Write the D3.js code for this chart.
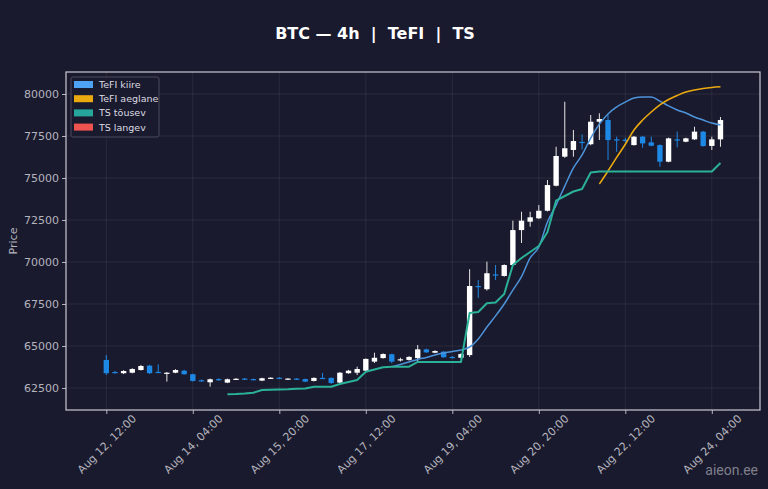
<!DOCTYPE html>
<html>
<head>
<meta charset="utf-8">
<script src="https://cdn.jsdelivr.net/npm/d3@7"></script>
<style>
  html, body { margin: 0; padding: 0; background: #1a1a2e; }
  svg { display: block; }
</style>
</head>
<body>
<div id="grafica"></div>
<script>
// 4h candles, first one Aug 12 12:00
var inicio = Date.UTC(2024, 7, 12, 12);
var paso = 4 * 3600 * 1000;

var abre = [64170, 63450, 63380, 63410, 63570, 63830, 63460, 63370, 63410, 63530,
  63320, 62960, 62840, 63030, 62820, 63010, 63060, 63030, 62940, 63090,
  63110, 63030, 63060, 63030, 62920, 63100, 63100, 62820, 63380, 63410,
  63530, 64070, 64280, 64510, 64180, 64170, 64280, 64800, 64600, 64660,
  64350, 64300, 64460, 68570, 68380, 69260, 69170, 69820, 71900, 72400,
  72600, 73050, 74540, 76270, 76670, 77150, 77010, 78350, 78450, 77300,
  77280, 76960, 77460, 77120, 76960, 75970, 77300, 77160, 77300, 77760,
  76910, 77300];
var alto = [64460, 63520, 63560, 63680, 63870, 63880, 63910, 63450, 63620, 63580,
  63350, 63010, 63060, 63080, 63060, 63080, 63090, 63060, 63110, 63140,
  63140, 63090, 63090, 63060, 63130, 63390, 63130, 63450, 63580, 63770,
  64260, 64600, 64560, 64540, 64300, 64390, 65060, 64840, 64740, 64700,
  64400, 64560, 69570, 68930, 70020, 69820, 69860, 72460, 72990, 72990,
  73390, 74880, 76860, 79540, 77860, 77600, 78750, 78850, 78750, 77460,
  77400, 77500, 77500, 77460, 77000, 77400, 77760, 77400, 78050, 77800,
  77460, 78630];
var bajo = [63270, 63360, 63330, 63370, 63540, 63330, 63380, 62880, 63380, 63290,
  62880, 62870, 62580, 62930, 62790, 62980, 62990, 62950, 62910, 63060,
  63050, 63000, 62990, 62850, 62890, 63050, 62740, 62790, 63350, 63270,
  63500, 63990, 64250, 63970, 64080, 64130, 64070, 64590, 64570, 64300,
  64260, 64270, 64350, 67860, 68300, 68930, 69130, 69780, 71130, 72100,
  72560, 73010, 74500, 76200, 76270, 76700, 76950, 77260, 76070, 76560,
  77100, 76930, 76800, 76890, 75670, 75940, 76830, 77130, 77270, 76870,
  76670, 76860];
var cierra = [63380, 63430, 63510, 63630, 63810, 63380, 63420, 63410, 63570, 63320,
  62920, 62930, 63020, 62990, 63020, 63050, 63020, 62980, 63080, 63110,
  63080, 63060, 63020, 62880, 63100, 63080, 62800, 63410, 63530, 63630,
  64230, 64300, 64520, 64070, 64210, 64350, 64800, 64620, 64700, 64330,
  64320, 64520, 68570, 68500, 69330, 69200, 69820, 71900, 72460, 72660,
  73050, 74580, 76310, 76770, 77200, 77100, 78350, 78510, 77260, 77250,
  77240, 77460, 77060, 76920, 75970, 77360, 77260, 77360, 77760, 76900,
  77300, 78450];

// indicator lines (null = not yet computed)
var tefiKiire = Array(33).fill(null).concat([
  63770, 63900, 64050, 64200, 64320, 64460, 64580, 64670, 64760, 64940,
  65420, 66130, 66790, 67500, 68330, 69130, 70240, 70890, 72380, 73390,
  74520, 75600, 76370, 77380, 78210, 78810, 79230, 79520, 79760, 79820,
  79820, 79580, 79290, 79050, 78870, 78630, 78450, 78270, 78160]);
var tefiAeglane = Array(57).fill(null).concat([
  74640, 75420, 76230, 77010, 77860, 78450, 78930, 79350, 79670, 79910,
  80120, 80240, 80330, 80390, 80430]);
var tsTousev = Array(14).fill(null).concat([
  62125, 62143, 62173, 62220, 62381, 62399, 62411, 62423, 62458, 62470,
  62577, 62577, 62577, 62738, 62857, 62976, 63470, 63601, 63732, 63768,
  63768, 63768, 64048, 64048, 64048, 64048, 64048, 64048, 66964, 67024,
  67541, 67589, 68095, 69821, 70238, 70595, 70952, 71785, 73660, 73928,
  74196, 74345, 75327, 75387, 75387, 75387, 75387, 75387, 75387, 75387,
  75387, 75387, 75387, 75387, 75387, 75387, 75387, 75893]);
var tsLangev = Array(72).fill(null);

var yTicks = [62500, 65000, 67500, 70000, 72500, 75000, 77500, 80000];
var xTickIdx = [0, 10, 20, 30, 40, 50, 60, 70];
var leyenda = ['TeFI kiire', 'TeFI aeglane', 'TS tõusev', 'TS langev'];
var colores = ['#4ea3f5', '#eaa90f', '#26a69a', '#ef5350'];

var ancho = 768, altura = 489;
var izq = 66, der = 760, arriba = 72, abajo = 410;
var fondo = "#1a1a2e";
var azulVela = "#1e88e5";
var gris = "#b4b4bd";
var fuente = "DejaVu Sans, sans-serif";

function tiempo(i) { return new Date(inicio + paso * i); }

var x = d3.scaleUtc()
  .domain([tiempo(-4.66), tiempo(75.57)])
  .range([izq, der]);
var y = d3.scaleLinear()
  .domain([61190, 81310])
  .range([abajo, arriba]);

var esevege = d3.select("#grafica")
  .append('svg')
  .attr("width", ancho)
  .attr("height", altura)
  .style("background", fondo);

esevege.append("rect")
  .attr("width", ancho).attr("height", altura).attr("fill", fondo);

// grid
esevege.append("g")
  .selectAll("line.gy").data(yTicks).enter().append("line")
  .attr("x1", izq).attr("x2", der)
  .attr("y1", d => y(d)).attr("y2", d => y(d))
  .attr("stroke", "#ffffff").attr("stroke-opacity", 0.07);
esevege.append("g")
  .selectAll("line.gx").data(xTickIdx).enter().append("line")
  .attr("x1", d => x(tiempo(d))).attr("x2", d => x(tiempo(d)))
  .attr("y1", arriba).attr("y2", abajo)
  .attr("stroke", "#ffffff").attr("stroke-opacity", 0.07);

// axes
var fmt = d3.utcFormat("%b %d, %H:%M");
var ejeX = esevege.append("g")
  .attr("transform", "translate(0," + abajo + ")")
  .call(d3.axisBottom(x).tickValues(xTickIdx.map(tiempo)).tickSize(4).tickFormat(fmt));
ejeX.select(".domain").remove();
ejeX.selectAll("line").attr("stroke", gris);
ejeX.selectAll("text")
  .attr("fill", gris)
  .attr("font-family", fuente)
  .attr("font-size", "11px")
  .attr("text-anchor", "middle")
  .attr("dy", "0.35em")
  .attr("y", 0)
  .attr("transform", "translate(0,34) rotate(-45)");

var ejeY = esevege.append("g")
  .attr("transform", "translate(" + izq + ",0)")
  .call(d3.axisLeft(y).tickValues(yTicks).tickSize(4).tickFormat(d3.format("d")));
ejeY.select(".domain").remove();
ejeY.selectAll("line").attr("stroke", gris);
ejeY.selectAll("text")
  .attr("fill", gris)
  .attr("font-family", fuente)
  .attr("font-size", "11px");

esevege.append("text")
  .attr("transform", "translate(17," + ((arriba + abajo) / 2) + ") rotate(-90)")
  .attr("text-anchor", "middle")
  .attr("fill", gris)
  .attr("font-family", fuente)
  .attr("font-size", "11px")
  .text("Price");

// candles
var paso_px = x(tiempo(1)) - x(tiempo(0));
var velaAncho = paso_px * 0.62;
var velas = d3.range(abre.length);
var gVelas = esevege.append("g");
gVelas.selectAll("line.wick").data(velas).enter().append("line")
  .attr("x1", i => x(tiempo(i))).attr("x2", i => x(tiempo(i)))
  .attr("y1", i => y(alto[i])).attr("y2", i => y(bajo[i]))
  .attr("stroke", i => cierra[i] >= abre[i] ? "#e6e6e6" : azulVela)
  .attr("stroke-width", 1);
gVelas.selectAll("rect.body").data(velas).enter().append("rect")
  .attr("x", i => x(tiempo(i)) - velaAncho / 2)
  .attr("width", velaAncho)
  .attr("y", i => y(Math.max(abre[i], cierra[i])))
  .attr("height", i => Math.max(1.2, Math.abs(y(abre[i]) - y(cierra[i]))))
  .attr("fill", i => cierra[i] >= abre[i] ? "#ffffff" : azulVela);

// lines
var series = [
  { v: tefiKiire, c: '#4d93d9', w: 1.5, curva: d3.curveMonotoneX },
  { v: tefiAeglane, c: colores[1], w: 1.6, curva: d3.curveMonotoneX },
  { v: tsTousev, c: '#2ab197', w: 2, curva: d3.curveLinear },
  { v: tsLangev, c: colores[3], w: 2, curva: d3.curveLinear }
];
series.forEach(function (s) {
  var linea = d3.line()
    .defined(d => d != null)
    .curve(s.curva)
    .x((d, i) => x(tiempo(i)))
    .y(d => y(d));
  esevege.append("path")
    .attr("d", linea(s.v))
    .attr("fill", "none")
    .attr("stroke", s.c)
    .attr("stroke-width", s.w)
    .attr("stroke-linejoin", "round");
});

// frame
esevege.append("rect")
  .attr("x", izq).attr("y", arriba)
  .attr("width", der - izq).attr("height", abajo - arriba)
  .attr("fill", "none")
  .attr("stroke", "#c9c9d2")
  .attr("stroke-width", 1.2);

// legend
var gLey = esevege.append("g").attr("transform", "translate(71,77)");
gLey.append("rect")
  .attr("width", 88).attr("height", 60).attr("rx", 2)
  .attr("fill", "#1a1a2e").attr("fill-opacity", 0.8)
  .attr("stroke", "#4a4a5c");
for (var indx = 0; indx < leyenda.length; indx++) {
  gLey.append("rect")
    .attr("x", 3).attr("y", 4 + indx * 14.2)
    .attr("width", 19).attr("height", 7)
    .attr("fill", colores[indx]);
  gLey.append("text")
    .attr("x", 28).attr("y", 11 + indx * 14.2)
    .attr("fill", "#dcdce2")
    .attr("font-family", fuente)
    .attr("font-size", "9.5px")
    .text(leyenda[indx]);
}

// title
esevege.append("text")
  .attr("x", 375).attr("y", 39)
  .attr("text-anchor", "middle")
  .attr("fill", "#ffffff")
  .attr("font-family", fuente)
  .attr("font-weight", "bold")
  .attr("font-size", "16px")
  .style("white-space", "pre")
  .text("BTC — 4h  |  TeFI  |  TS");

// watermark
esevege.append("text")
  .attr("x", 758).attr("y", 475)
  .attr("text-anchor", "end")
  .attr("fill", "#9a9aa5")
  .attr("fill-opacity", 0.8)
  .attr("font-family", "Roboto, sans-serif")
  .attr("font-size", "14px")
  .text("aieon.ee");
</script>
</body>
</html>
